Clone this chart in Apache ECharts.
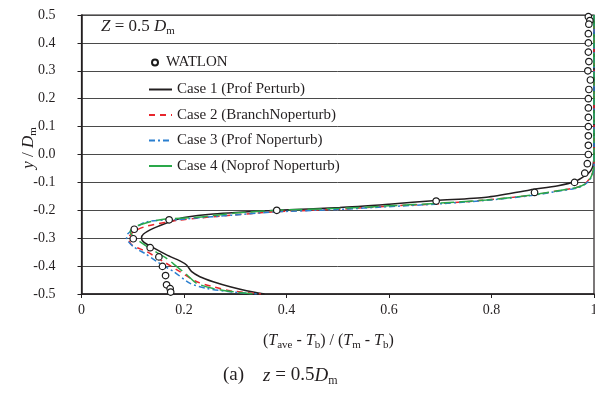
<!DOCTYPE html>
<html><head><meta charset="utf-8">
<script src="https://cdn.jsdelivr.net/npm/echarts@6/dist/echarts.min.js"></script>
<style>html,body{margin:0;padding:0;background:#fff}#c{width:595px;height:403px}</style>
</head><body><div id="c"></div>
<script>
var xTicks = ['0','0.2','0.4','0.6','0.8','1'];
var watlonX = [0.989,0.992,0.990,0.989,0.989,0.989,0.990,0.988,0.993,0.990,0.989,0.989,0.989,0.989,0.989,0.989,0.989,0.987,0.982,0.962,0.884,0.692,0.381,0.171,0.103,0.101,0.134,0.151,0.158,0.164,0.166,0.173,0.174];
var watlonY = [0.494,0.480,0.467,0.433,0.400,0.367,0.333,0.300,0.267,0.233,0.200,0.167,0.133,0.100,0.067,0.033,0.000,-0.033,-0.067,-0.100,-0.136,-0.167,-0.200,-0.234,-0.268,-0.302,-0.334,-0.367,-0.401,-0.434,-0.467,-0.481,-0.493];
var case1X = [1.0,1.0,0.998,0.993,0.982,0.963,0.93,0.875,0.79,0.692,0.6,0.504,0.381,0.257,0.2,0.173,0.14,0.121,0.117,0.122,0.134,0.166,0.192,0.205,0.215,0.231,0.257,0.29,0.322,0.357];
var case1Y = [0.5,0.0,-0.04,-0.06,-0.077,-0.097,-0.112,-0.127,-0.153,-0.165,-0.178,-0.19,-0.2,-0.213,-0.226,-0.241,-0.265,-0.285,-0.30,-0.315,-0.328,-0.36,-0.381,-0.396,-0.42,-0.438,-0.456,-0.474,-0.488,-0.5];
var case2X = [1.0,1.0,0.999,0.992,0.982,0.966,0.93,0.882,0.79,0.693,0.602,0.504,0.381,0.257,0.192,0.127,0.101,0.092,0.098,0.127,0.16,0.192,0.225,0.257,0.29,0.35];
var case2Y = [0.5,-0.03,-0.055,-0.085,-0.105,-0.118,-0.13,-0.145,-0.163,-0.177,-0.185,-0.196,-0.205,-0.223,-0.235,-0.257,-0.277,-0.3,-0.324,-0.348,-0.384,-0.42,-0.456,-0.474,-0.488,-0.5];
var case3X = [1.0,1.0,0.999,0.992,0.98,0.962,0.925,0.878,0.785,0.69,0.6,0.5,0.378,0.255,0.19,0.127,0.104,0.09,0.088,0.101,0.125,0.147,0.18,0.212,0.244,0.29,0.342];
var case3Y = [0.5,-0.03,-0.06,-0.09,-0.11,-0.122,-0.133,-0.147,-0.165,-0.178,-0.187,-0.197,-0.206,-0.223,-0.233,-0.241,-0.265,-0.285,-0.3,-0.33,-0.356,-0.384,-0.42,-0.462,-0.48,-0.492,-0.5];
var case4X = [1.0,1.0,0.999,0.993,0.983,0.966,0.93,0.88,0.79,0.693,0.6,0.504,0.381,0.3,0.225,0.16,0.134,0.101,0.095,0.105,0.134,0.166,0.186,0.205,0.225,0.257,0.3,0.342];
var case4Y = [0.5,-0.03,-0.055,-0.085,-0.105,-0.118,-0.13,-0.145,-0.163,-0.175,-0.184,-0.193,-0.2,-0.21,-0.225,-0.232,-0.241,-0.261,-0.277,-0.3,-0.337,-0.372,-0.402,-0.43,-0.462,-0.48,-0.493,-0.5];
var names = ['WATLON','Case 1 (Prof Perturb)','Case 2 (BranchNoperturb)','Case 3 (Prof Noperturb)','Case 4 (Noprof Noperturb)'];

function zip(a,b){return a.map(function(v,i){return [v,b[i]];});}
var FF = 'Liberation Serif';
var TC = '#231f20';
var chart = echarts.init(document.getElementById('c'), null, {renderer:'canvas'});
var lineSeries = function(name, xs, ys, color, type){
  return {name:name, type:'line', data:zip(xs,ys), showSymbol:false, symbol:'none', smooth:0.25,
    lineStyle:{color:color, width:1.5, type:type}, itemStyle:{color:color}, z:3};
};
var option = {
  animation:false,
  grid:{left:81.5, right:1, top:15, bottom:109, show:true, borderColor:'#231f20', borderWidth:1.2, containLabel:false, outerBoundsMode:'none'},
  xAxis:{type:'value', min:0, max:1, interval:0.2,
    axisLine:{show:true, onZero:false, lineStyle:{color:TC, width:1.5}},
    axisTick:{show:true, inside:false, length:4, lineStyle:{color:TC}},
    axisLabel:{color:TC, fontFamily:FF, fontSize:14, margin:9, hideOverlap:false, formatter:function(v){return xTicks[Math.round(v/0.2)];}},
    splitLine:{show:false}},
  yAxis:{type:'value', min:-0.5, max:0.5, interval:0.1,
    axisLine:{show:true, onZero:false, lineStyle:{color:TC, width:1.5}},
    axisTick:{show:true, inside:false, length:4, lineStyle:{color:TC}},
    axisLabel:{color:TC, fontFamily:FF, fontSize:14, margin:26, align:'right', formatter:function(v){return Math.abs(v)<1e-9?'0.0':v.toFixed(1);}},
    splitLine:{show:true, lineStyle:{color:'#4a4a4a', width:1}}},
  legend:[
    {data:[names[0]], orient:'vertical', left:146, top:50, itemWidth:12, itemHeight:6, itemGap:4,
      textStyle:{fontFamily:FF, fontSize:15, color:TC}},
    {data:[names[1], names[2], names[3], {name:names[4], lineStyle:{type:'solid'}}],
      orient:'vertical', left:143, top:77, itemWidth:23, itemHeight:14, itemGap:10.5,
      textStyle:{fontFamily:FF, fontSize:15, color:TC}, itemStyle:{opacity:0}}
  ],
  graphic:[
    {type:'text', left:101, top:18, style:{text:'{i|Z} = 0.5 {i|D}{s|m}', fill:TC,
      rich:{i:{fontFamily:FF, fontSize:17, fontStyle:'italic', fill:TC, lineHeight:20},
            s:{fontFamily:FF, fontSize:11, fill:TC, verticalAlign:'bottom', lineHeight:14, padding:[6,0,0,0]}},
      fontFamily:FF, fontSize:17}},
    {type:'text', left:263, top:333, style:{text:'({i|T}{s|ave} - {i|T}{s|b}) / ({i|T}{s|m} - {i|T}{s|b})', fill:TC,
      rich:{i:{fontFamily:FF, fontSize:16, fontStyle:'italic', fill:TC, lineHeight:20},
            s:{fontFamily:FF, fontSize:11, fill:TC, verticalAlign:'bottom', lineHeight:14, padding:[6,0,0,0]}},
      fontFamily:FF, fontSize:16}},
    {type:'text', left:223, top:366, style:{text:'(a)    {i|z} = 0.5{i|D}{s|m}', fill:TC,
      rich:{i:{fontFamily:FF, fontSize:19, fontStyle:'italic', fill:TC, lineHeight:22},
            s:{fontFamily:FF, fontSize:12, fill:TC, verticalAlign:'bottom', lineHeight:15, padding:[7,0,0,0]}},
      fontFamily:FF, fontSize:19}},
    {type:'text', x:29, y:148, rotation:Math.PI/2, style:{text:'{i|y} / {i|D}{s|m}', fill:TC, align:'center', verticalAlign:'middle',
      rich:{i:{fontFamily:FF, fontSize:17, fontStyle:'italic', fill:TC, lineHeight:20},
            s:{fontFamily:FF, fontSize:11, fill:TC, verticalAlign:'bottom', lineHeight:14, padding:[6,0,0,0]}},
      fontFamily:FF, fontSize:17}}
  ],
  series:[
    {name:names[0], type:'scatter', data:zip(watlonX,watlonY), symbol:'circle', symbolSize:6.5,
      itemStyle:{color:'#ffffff', borderColor:'#1a1a1a', borderWidth:1.2, opacity:1}, z:5},
    lineSeries(names[1], case1X, case1Y, '#231f20', 'solid'),
    lineSeries(names[2], case2X, case2Y, '#e8262d', [6,5]),
    lineSeries(names[3], case3X, case3Y, '#2a7fcf', [6,3,2,3]),
    lineSeries(names[4], case4X, case4Y, '#2aa84a', [14,5])
  ]
};
chart.setOption(option);
</script></body></html>
